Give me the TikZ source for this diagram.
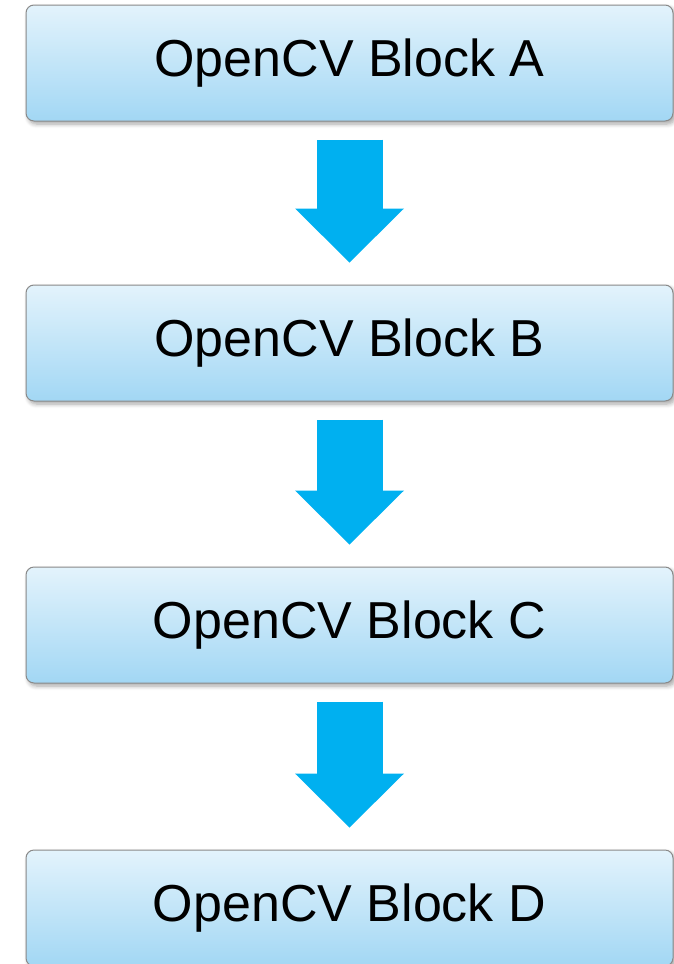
\documentclass[tikz,border=0pt]{standalone}
\usepackage{fontspec}
\setmainfont{Liberation Sans}
\usetikzlibrary{arrows.meta,shadows.blur}

\definecolor{boxtop}{HTML}{E3F3FC}
\definecolor{boxbottom}{HTML}{A2D7F4}
\definecolor{boxline}{HTML}{8A8A8A}
\definecolor{arrowblue}{HTML}{00B0F0}

\tikzset{
  block/.style={draw=boxline, line width=0.5pt, rounded corners=4pt,
    top color=boxtop, bottom color=boxbottom,
    minimum width=323.5pt, minimum height=58pt, inner sep=0pt,
    font=\fontsize{26}{30}\selectfont,
    blur shadow={shadow xshift=1.2pt, shadow yshift=-1.5pt,
      shadow blur steps=6, shadow opacity=35}},
  flow/.style={draw=arrowblue, line width=33pt,
    -{Triangle[width=54.5pt,length=27pt,line width=0pt]},
    shorten <=9pt, shorten >=11pt}
}

\begin{document}
\begin{tikzpicture}[x=0.5pt, y=-0.5pt]
      \useasboundingbox (0,0) rectangle (674,964);
      % the four blocks
      \node[block] (blockA) at (349.5, 63) {OpenCV Block A};
      \node[block] (blockB) at (349.5, 343) {OpenCV Block B};
      \node[block] (blockC) at (349.5, 625) {OpenCV Block C};
      \node[block] (blockD) at (349.5, 908) {OpenCV Block D};
      % arrows between them
      \draw[flow] (blockA) -- (blockB);
      \draw[flow] (blockB) -- (blockC);
      \draw[flow] (blockC) -- (blockD);
    \end{tikzpicture}
\end{document}
